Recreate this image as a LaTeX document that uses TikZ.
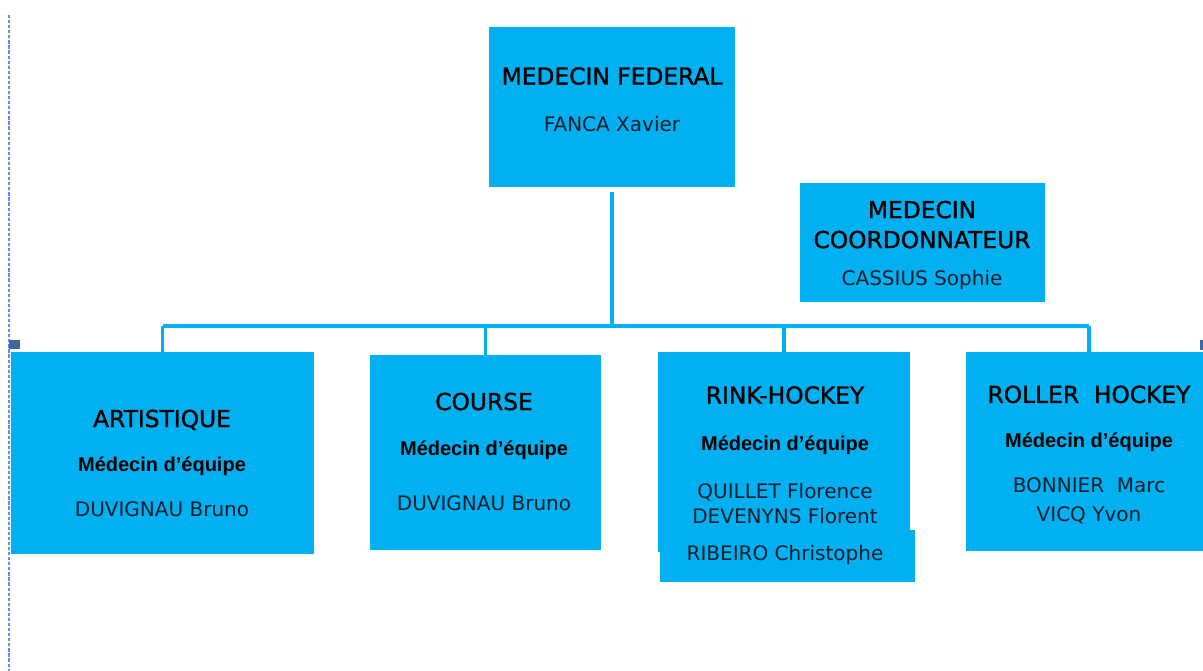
\documentclass[tikz,border=0pt]{standalone}
\usepackage{fontspec}
\setmainfont{DejaVu Sans}
\newfontfamily\arialfont{Liberation Sans}
\newfontfamily\titrefont{DejaVu Sans}[FakeBold=1.2]
\usepackage{xcolor}
\usepackage{tikz}
\usetikzlibrary{fit}
\definecolor{boxblue}{HTML}{00B0F0}
\definecolor{guideblue}{HTML}{5B8DEF}
\definecolor{handleblue}{HTML}{41679E}
\definecolor{nomgray}{HTML}{0F1E2C}
\newcommand{\titre}[1]{{\titrefont\fontsize{17.5}{18}\selectfont\color{black}#1}}
\newcommand{\role}{{\arialfont\bfseries\fontsize{15}{18}\selectfont\color{black}Médecin d’équipe}}
\tikzset{
  boite/.style={fill=boxblue, inner sep=0pt},
  texte/.style={align=center, inner sep=0pt, text=nomgray, font=\fontsize{15}{18}\selectfont},
  link/.style={draw=boxblue, line width=2.4pt},
}

\begin{document}
\begin{tikzpicture}[x=0.75pt, y=-0.75pt]
\useasboundingbox (0,0) rectangle (1203,671);
% frame of the selection
\draw[guideblue, line width=1.4pt, dash pattern=on 2.4pt off 1.4pt] (9,15) -- (9,671);
\fill[handleblue] (9,340) rectangle (20,349);
\fill[handleblue] (1200,340) rectangle (1206,350);
%
\node[boite, fit={(489,27) (735,187)}] (fed) {};
\node[boite, fit={(800,183) (1045,302)}] (coord) {};
\node[boite, fit={(11,352) (314,554)}] (art) {};
\node[boite, fit={(370,355) (601,550)}] (course) {};
\node[boite, fit={(658,352) (910,552)}] (rink) {};
\node[boite, fit={(660,530) (915,582)}] (rinkx) {};
\node[boite, fit={(966,352) (1212,551)}] (roller) {};
%
\node[texte] (fedT) at (612,99.5) {\titre{MEDECIN FEDERAL}\\[17.25pt]FANCA Xavier};
\node[texte] (coordT) at (922,245) {\titre{MEDECIN}\\[4.5pt]\titre{COORDONNATEUR}\\[9.75pt]CASSIUS Sophie};
\node[texte] (artT) at (162,463) {\titre{ARTISTIQUE}\\[15pt]\role\\[15.75pt]DUVIGNAU Bruno};
\node[texte] (courseT) at (484,451.5) {\titre{COURSE}\\[15.75pt]\role\\[23.25pt]DUVIGNAU Bruno};
\node[texte] (rinkT) at (785,455) {\titre{RINK-HOCKEY}\\[17.25pt]\role\\[18pt]QUILLET Florence\\[0.75pt]DEVENYNS Florent};
\node[texte] (rinkxT) at (785,555) {RIBEIRO Christophe};
\node[texte] (rollerT) at (1089,455) {\titre{ROLLER\ \ HOCKEY}\\[15.75pt]\role\\[15.75pt]BONNIER\ \ Marc\\[3.75pt]VICQ Yvon};
%
\coordinate (bus) at (612,326);
\draw[link, shorten <=3.5pt] (fed) -- (bus);
\draw[link] (art.north |- bus) -- (roller.north |- bus);
\foreach \u in {art,course,rink,roller}
  \draw[link] (\u.north |- bus) -- (\u.north);
\end{tikzpicture}
\end{document}
